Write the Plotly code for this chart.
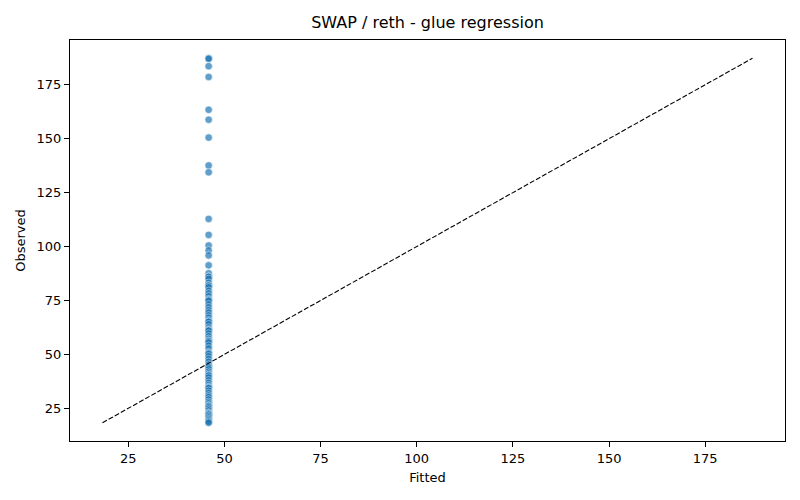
import plotly.graph_objects as go

fitted_value = 45.9
observed = [
    187.3, 187.0, 183.6, 178.6, 163.4, 158.8, 150.5, 137.6, 134.4, 112.8,
    105.4, 100.5, 98.2, 95.9, 91.3, 87.6, 86.1, 86.0, 85.0, 83.2,
    82.0, 81.9, 81.1, 79.5, 78.3, 77.0, 75.6, 75.2, 74.8, 73.2,
    71.9, 70.5, 69.4, 68.1, 67.0, 65.8, 65.3, 65.1, 64.0, 62.5,
    61.6, 61.2, 61.0, 59.7, 58.4, 57.2, 56.4, 56.1, 55.5, 54.1,
    52.8, 51.0, 50.6, 50.2, 49.1, 47.9, 46.6, 45.3, 44.3, 44.0,
    43.1, 42.0, 41.2, 40.5, 40.2, 39.3, 38.0, 36.8, 35.7, 34.9,
    34.6, 34.4, 33.2, 32.1, 31.0, 30.2, 29.1, 28.0, 27.3, 26.5,
    26.1, 25.6, 24.8, 24.0, 23.1, 22.7, 22.5, 22.1, 21.4, 20.7,
    20.0, 19.4, 18.8, 18.3,
]
fitted = [fitted_value] * len(observed)

x_ticks = [25, 50, 75, 100, 125, 150, 175]
y_ticks = [25, 50, 75, 100, 125, 150, 175]

lo = min(min(fitted), min(observed))
hi = max(max(fitted), max(observed))
pad = (hi - lo) * 0.05

fig = go.Figure()
fig.add_trace(go.Scatter(
    x=fitted, y=observed, mode="markers",
    marker=dict(color="#1f77b4", size=7.5, opacity=0.7,
                line=dict(color="white", width=0.6)),
    showlegend=False, hoverinfo="skip",
))
fig.add_trace(go.Scatter(
    x=[lo, hi], y=[lo, hi], mode="lines",
    line=dict(color="black", width=1.1, dash="5px,2px"),
    showlegend=False, hoverinfo="skip",
))

axis_style = dict(
    showgrid=False, zeroline=False, showline=True, linecolor="black",
    linewidth=1, mirror=True, ticks="outside", ticklen=5, tickwidth=1,
    tickcolor="black", tickfont=dict(size=13, color="black"),
)

# page adds ~8px of body margin, so margins are shifted to compensate
fig.update_layout(
    width=800, height=500,
    margin=dict(l=62, r=23, t=32, b=67),
    plot_bgcolor="white", paper_bgcolor="white",
    font=dict(family="DejaVu Sans", color="black"),
    title=dict(text="SWAP / reth - glue regression", x=0.5, xref="paper",
               y=0.972, yref="container", yanchor="middle",
               font=dict(size=16, color="black")),
    xaxis=dict(range=[lo - pad, hi + pad], tickvals=x_ticks,
               title=dict(text="Fitted", font=dict(size=13), standoff=8),
               **axis_style),
    yaxis=dict(range=[lo - pad, hi + pad], tickvals=y_ticks,
               title=dict(text="Observed", font=dict(size=13), standoff=8),
               **axis_style),
)

fig.write_html("out.html")
